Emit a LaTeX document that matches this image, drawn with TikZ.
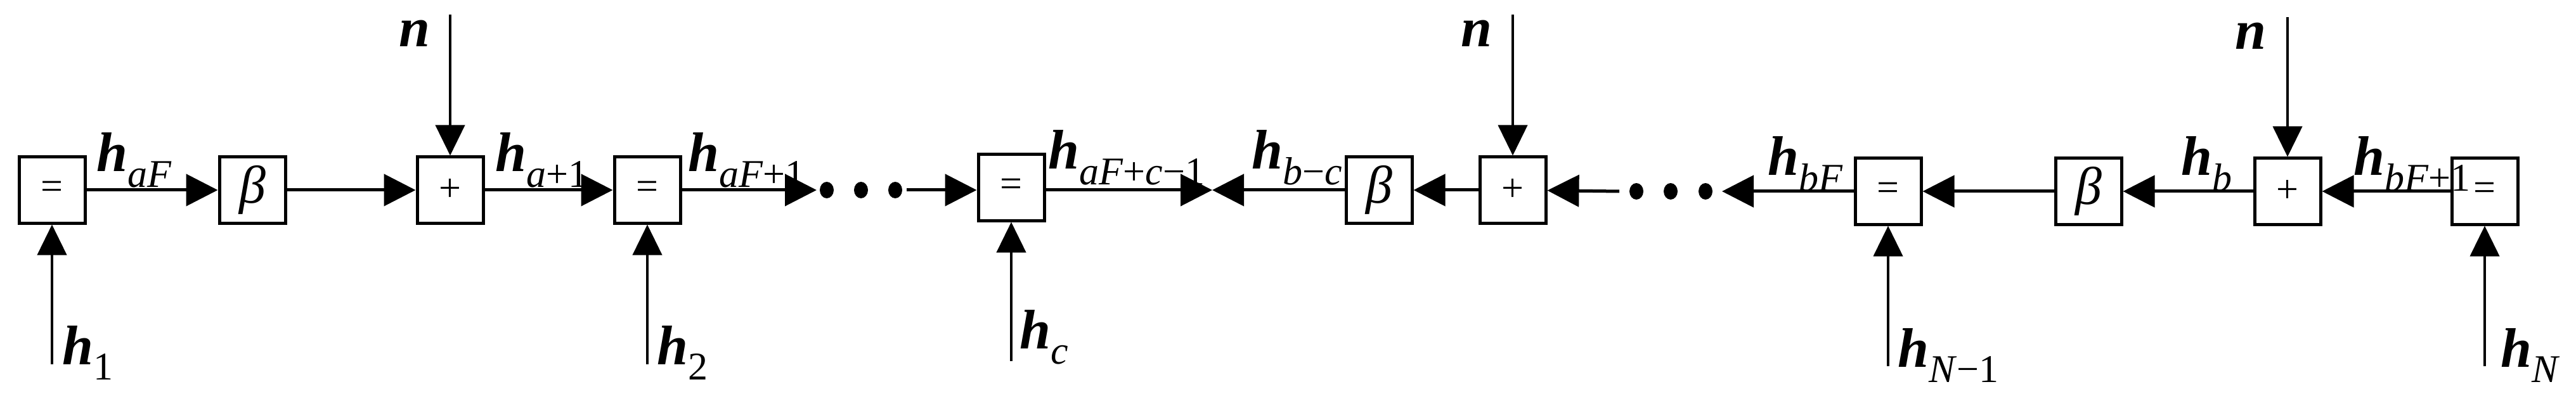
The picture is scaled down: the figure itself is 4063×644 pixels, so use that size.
\documentclass[tikz,border=0pt]{standalone}
\usepackage{fontspec}
\setmainfont{Liberation Serif}
\usetikzlibrary{arrows.meta,shapes.geometric}
\newcommand\hv[1]{{\bfseries\itshape h}\raisebox{-0.28em}{\fontsize{62}{62}\selectfont #1}}
\begin{document}
\begin{tikzpicture}[x=1pt,y=-1pt,
  blk/.style={draw,line width=5pt,minimum width=104pt,minimum height=104pt,inner sep=0pt,fill=white,font=\fontsize{62}{62}\selectfont},
  bet/.style={blk,font=\fontsize{84}{84}\selectfont\itshape},
  arr/.style={line width=5pt,-{Triangle[length=50pt,width=50pt]}},
  varr/.style={line width=4pt,-{Triangle[length=48pt,width=46pt]}},
  lab/.style={anchor=base west,inner sep=0pt,font=\fontsize{88}{88}\selectfont},
  dot/.style={fill,ellipse,inner sep=0pt,minimum width=22pt,minimum height=26pt}]
\useasboundingbox (0,0) rectangle (4063,644);
% blocks
\node[blk] (e1) at (82,300) {=};
\node[bet] (b1) at (398,300) {β};
\node[blk] (p1) at (710,300) {+};
\node[blk] (e2) at (1021,300) {=};
\node[blk] (e3) at (1595,296) {=};
\node[bet] (b2) at (2175,300) {β};
\node[blk] (p2) at (2386,300) {+};
\node[blk] (e4) at (2978,302) {=};
\node[bet] (b3) at (3294,302) {β};
\node[blk] (p3) at (3608,302) {+};
\node[blk] (e5) at (3919,302) {=};
% dots
\node[dot] (d1) at (1304,300) {};
\node[dot] (d2) at (1358,300) {};
\node[dot] (d3) at (1412,300) {};
\node[dot] (d4) at (2581,302) {};
\node[dot] (d5) at (2635,302) {};
\node[dot] (d6) at (2690,302) {};
% coordinates
\coordinate (t1) at (1288,300);
\coordinate (s1) at (1430,300);
\coordinate (m) at (1912,300);
\coordinate (s2) at (2554,302);
\coordinate (t2) at (2716,302);
\coordinate (n1) at (710,23);
\coordinate (n2) at (2386,23);
\coordinate (n3) at (3608,27);
\coordinate (i1) at (82,575);
\coordinate (i2) at (1021,575);
\coordinate (i3) at (1595,570);
\coordinate (i4) at (2978,578);
\coordinate (i5) at (3919,578);
% connectors
\draw[arr] (e1) -- (b1);
\draw[arr] (b1) -- (p1);
\draw[arr] (p1) -- (e2);
\draw[arr] (e2) -- (t1);
\draw[arr] (s1) -- (e3.west|-s1);
\draw[arr] (e3.east|-m) -- (m);
\draw[arr] (b2) -- (m);
\draw[arr] (p2) -- (b2);
\draw[arr] (s2) -- (p2);
\draw[arr] (e4) -- (t2);
\draw[arr] (b3) -- (e4);
\draw[arr] (p3) -- (b3);
\draw[arr] (e5) -- (p3);
\draw[varr] (n1) -- (p1);
\draw[varr] (n2) -- (p2);
\draw[varr] (n3) -- (p3);
\draw[varr] (i1) -- (e1);
\draw[varr] (i2) -- (e2);
\draw[varr] (i3) -- (e3);
\draw[varr] (i4) -- (e4);
\draw[varr] (i5) -- (e5);
% labels
\node[lab] (l1) at (152,271) {\hv{\textit{aF}}};
\node[lab] (l2) at (781,271) {\hv{\textit{a}+1}};
\node[lab] (l3) at (1085,271) {\hv{\textit{aF}+1}};
\node[lab] (l4) at (1653,267) {\hv{\textit{aF}+\textit{c}−1}};
\node[lab] (l5) at (1974,267) {\hv{\textit{b}−\textit{c}}};
\node[lab] (l6) at (2788,277) {\hv{\textit{bF}}};
\node[lab] (l7) at (3440,277) {\hv{\textit{b}}};
\node[lab] (l8) at (3712,277) {\hv{\textit{bF}+1}};
\node[lab] (k1) at (98,575) {\hv{1}};
\node[lab] (k2) at (1036,575) {\hv{2}};
\node[lab] (k3) at (1608,550) {\hv{\textit{c}}};
\node[lab] (k4) at (2993,579) {\hv{\textit{N}−1}};
\node[lab] (k5) at (3944,579) {\hv{\textit{N}}};
\node[lab] (m1) at (629,74) {\bfseries\itshape n};
\node[lab] (m2) at (2304,74) {\bfseries\itshape n};
\node[lab] (m3) at (3525,78) {\bfseries\itshape n};
\end{tikzpicture}
\end{document}
